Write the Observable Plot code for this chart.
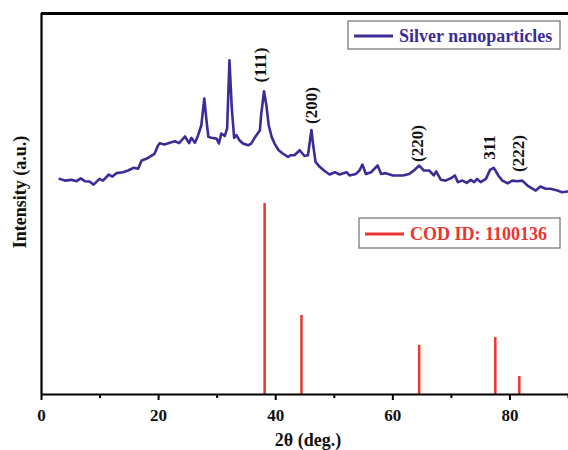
<!DOCTYPE html>
<html><head><meta charset="utf-8">
<script src="https://cdn.jsdelivr.net/npm/d3@7"></script>
<script src="https://cdn.jsdelivr.net/npm/@observablehq/plot@0.6"></script>
<style>body{margin:0;background:#fff} #chart{width:568px;height:450px}</style>
</head><body><div id="chart"></div>
<script>
// XRD pattern of silver nanoparticles (2θ in degrees, intensity in a.u.)
const twoTheta = [3.1,4.0,5.1,6.0,6.7,7.4,8.2,8.9,9.9,10.5,11.5,12.1,12.8,13.9,14.8,15.7,16.5,17.1,17.9,18.8,19.3,19.9,20.2,21.0,21.9,22.8,23.5,24.5,25.2,25.6,26.2,26.7,27.3,27.8,28.2,28.5,29.0,29.9,30.3,30.7,31.3,31.7,32.1,32.5,32.9,33.3,33.8,34.4,35.3,35.8,36.4,37.3,37.5,38.0,38.4,38.8,39.3,39.8,40.5,41.2,42.1,42.5,43.2,44.1,44.9,45.5,46.1,46.4,46.8,47.5,48.4,49.2,50.1,50.9,52.1,52.6,53.7,54.3,54.8,55.4,56.3,57.4,58.0,58.8,60.0,61.7,62.8,63.6,64.5,65.3,66.2,67.0,67.4,68.2,69.0,69.9,70.6,71.1,71.9,72.6,73.3,73.9,74.4,75.0,75.9,76.6,77.2,77.6,78.0,78.7,79.6,80.4,81.3,82.1,83.0,84.4,85.2,86.1,86.9,88.1,88.9,89.8];
const intensity = [112.9,112.0,112.4,111.7,113.2,111.7,111.5,109.9,112.9,112.0,115.2,114.1,115.9,116.4,117.3,118.7,118.2,122.5,123.4,125.1,126.0,130.4,131.6,130.9,131.8,132.6,131.6,135.1,131.6,134.4,131.8,135.4,141.0,155.0,142.8,134.9,134.4,134.0,131.4,136.6,135.4,139.3,175.0,149.7,134.4,135.8,133.1,131.4,130.5,131.4,134.4,138.4,146.2,158.8,151.5,141.0,134.9,131.4,127.9,126.2,124.4,125.3,125.3,127.9,124.9,125.3,138.5,130.5,121.8,119.2,116.9,115.2,116.4,115.2,116.4,114.7,115.5,117.3,120.4,115.5,116.4,119.9,115.5,115.9,114.7,114.7,115.5,117.3,119.9,117.3,117.3,114.7,116.8,112.4,112.0,113.2,114.7,111.2,112.0,110.8,112.4,111.2,112.9,111.2,112.9,117.6,118.7,116.9,114.7,112.0,110.6,112.0,111.7,112.0,109.4,106.8,108.9,107.7,107.7,106.8,105.9,106.3];

// Reference pattern COD ID: 1100136 (relative intensity)
const refTwoTheta = [38.1, 44.4, 64.5, 77.5, 81.6];
const refIntensity = [100, 41.4, 25.7, 29.8, 9.4];

// Miller index annotations
const peakLabels = ["(111)", "(200)", "(220)", "311", "(222)"];
const peakLabelX = [37.4, 46.1, 64.2, 76.5, 81.5];
const peakLabelY = [172.5, 151.3, 131.4, 129.3, 126.2];

const xMajorTicks = [0, 20, 40, 60, 80];
const xMinorTicks = [10, 30, 50, 70, 90];
const seriesNames = ["Silver nanoparticles", "COD ID: 1100136"];
const xTitle = "2θ (deg.)";
const yTitle = "Intensity (a.u.)";

const blue = "#3a2d98";
const red = "#e8352f";
const yMax = 199.5;

const curve = twoTheta.map((t, i) => ({t, v: intensity[i]}));
const refs = refTwoTheta.map((t, i) => ({t, v: refIntensity[i]}));
const labels = peakLabels.map((s, i) => ({s, x: peakLabelX[i], y: peakLabelY[i]}));

const plot = Plot.plot({
  width: 568,
  height: 450,
  marginLeft: 41,
  marginRight: 0,
  marginTop: 13,
  marginBottom: 56,
  style: {fontFamily: "'Liberation Serif','Times New Roman',serif", fontWeight: "bold", fontSize: "17px", background: "#fff", overflow: "visible"},
  x: {domain: [0, 90], axis: null},
  y: {domain: [0, yMax], axis: null},
  marks: [
    Plot.ruleX(refs, {x: "t", y1: 0, y2: "v", stroke: red, strokeWidth: 2.5}),
    Plot.line(curve, {x: "t", y: "v", stroke: blue, strokeWidth: 2.6, strokeLinejoin: "round"}),
    Plot.text(labels, {x: "x", y: "y", text: "s", rotate: -90, fontSize: 17, fill: "#111"}),
    Plot.ruleX([0], {strokeWidth: 2.2, stroke: "#000"}),
    Plot.ruleY([0], {strokeWidth: 2.2, stroke: "#000"}),
    Plot.ruleY([yMax], {strokeWidth: 2.8, stroke: "#000"}),
    Plot.axisX({ticks: xMajorTicks, tickSize: 6, tickPadding: 8, strokeWidth: 2, label: null, fontSize: 17, fill: "#111"}),
    Plot.axisX({ticks: xMinorTicks, tickSize: 4, tickFormat: () => "", strokeWidth: 2, label: null}),
    Plot.text([xTitle], {text: d => d, frameAnchor: "bottom", textAnchor: "middle", lineAnchor: "middle", dx: 3, dy: 46, fontSize: 18, fill: "#111"}),
    Plot.text([yTitle], {text: d => d, frameAnchor: "left", textAnchor: "middle", lineAnchor: "middle", rotate: -90, dx: -21, dy: -12, fontSize: 18, fill: "#111"})
  ]
});

// Legends drawn inside the plot area
const svg = d3.select(plot);
const legends = [
  {name: seriesNames[0], color: blue, x: 348, y: 21, w: 212, h: 28},
  {name: seriesNames[1], color: red, x: 359, y: 218, w: 201, h: 30}
];
legends.forEach(l => {
  const g = svg.append("g");
  g.append("rect").attr("x", l.x).attr("y", l.y).attr("width", l.w).attr("height", l.h)
    .attr("fill", "#fff").attr("stroke", "#7a7a7a").attr("stroke-width", 1.3);
  g.append("line").attr("x1", l.x + 6).attr("x2", l.x + 45).attr("y1", l.y + l.h / 2 + 1).attr("y2", l.y + l.h / 2 + 1)
    .attr("stroke", l.color).attr("stroke-width", 3);
  g.append("text").attr("x", l.x + 51).attr("y", l.y + l.h / 2 + 1).attr("dy", "0.35em")
    .attr("text-anchor", "start")
    .attr("fill", l.color).attr("font-size", 18).attr("font-weight", "bold").text(l.name);
});

document.getElementById("chart").appendChild(plot);
</script>
</body></html>
